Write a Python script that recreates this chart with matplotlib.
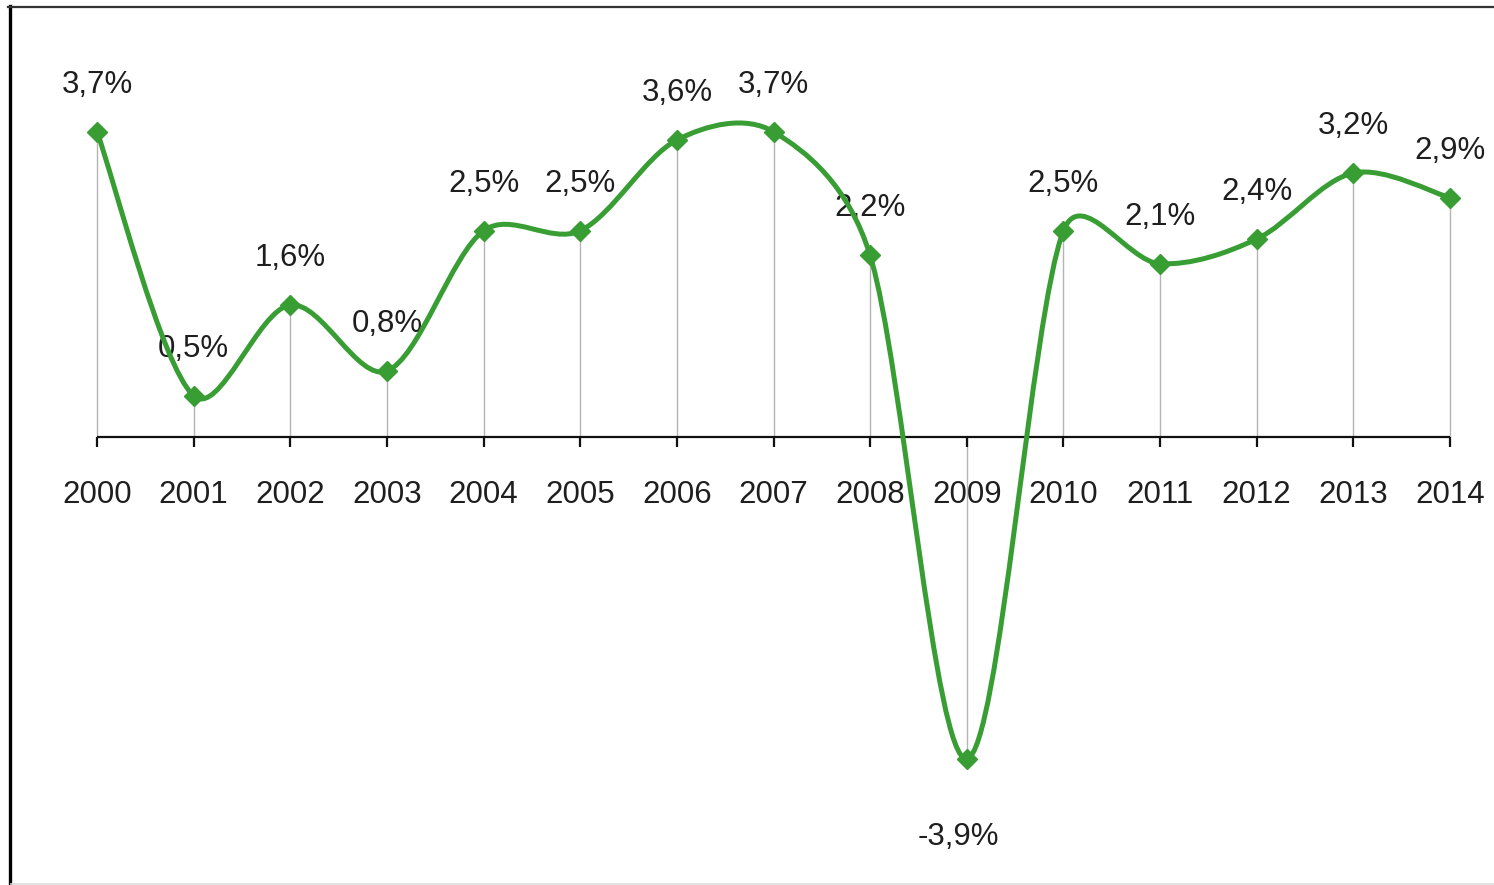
import numpy as np
import matplotlib
matplotlib.use("Agg")
import matplotlib.pyplot as plt
from matplotlib.path import Path
from matplotlib.patches import PathPatch
from matplotlib.lines import Line2D

years = ['2000', '2001', '2002', '2003', '2004', '2005', '2006', '2007',
         '2008', '2009', '2010', '2011', '2012', '2013', '2014']
growth = [3.7, 0.5, 1.6, 0.8, 2.5, 2.5, 3.6, 3.7, 2.2, -3.9, 2.5, 2.1, 2.4, 3.2, 2.9]
labels = ['3,7%', '0,5%', '1,6%', '0,8%', '2,5%', '2,5%', '3,6%', '3,7%',
          '2,2%', '-3,9%', '2,5%', '2,1%', '2,4%', '3,2%', '2,9%']

GREEN = '#389e34'
TEXT = '#1e1e1e'

plt.rcParams['font.family'] = ['Liberation Sans', 'DejaVu Sans']

W, H = 1494, 885
fig = plt.figure(figsize=(W / 100, H / 100), dpi=100)
ax = fig.add_axes([0, 0, 1, 1])

# pixel layout: 2000 at x=97, 2014 at x=1450, zero line at y=437
px_year = (1450 - 97) / 14
px_unit = 82.5
ax.set_xlim(-97 / px_year, (W - 97) / px_year)
ax.set_ylim(-(H - 437) / px_unit, 437 / px_unit)

x = np.arange(len(years))
y = np.array(growth)

# smoothed line: bezier segments, tangents shortened on the short side
# (spreadsheet-like smoothing, lengths measured in pixels)
pts = np.column_stack([x, y])
scale = np.array([px_year, px_unit])
n = len(pts)


def seg_len(a, b):
    return np.hypot(*((pts[b] - pts[a]) * scale))


def ctrl(i, j):
    # control point leaving point i towards neighbour j
    prev_i = max(i - 1, 0)
    next_i = min(i + 1, n - 1)
    tangent = pts[next_i] - pts[prev_i]
    if prev_i == i or next_i == i:
        f = 1.0
    else:
        d_this = seg_len(i, j)
        d_other = seg_len(i, 2 * i - j)
        f = min(1.0, np.sqrt(2 * d_this / (d_this + d_other)))
    sign = 1 if j > i else -1
    return pts[i] + sign * tangent * f / 6


verts = [tuple(pts[0])]
codes = [Path.MOVETO]
for i in range(n - 1):
    verts += [tuple(ctrl(i, i + 1)), tuple(ctrl(i + 1, i)), tuple(pts[i + 1])]
    codes += [Path.CURVE4] * 3
curve = PathPatch(Path(verts, codes), facecolor='none', edgecolor=GREEN,
                  lw=3.6, zorder=4, capstyle='round', joinstyle='round')
ax.add_patch(curve)

# drop lines
ax.vlines(x, 0, y, colors='#b4b4b4', lw=1.0, zorder=1)

# markers
ax.plot(x, y, linestyle='none', marker='D', ms=10, color=GREEN, zorder=5)

# axis at zero
ax.hlines(0, 0, 14, colors='#111111', lw=1.6, zorder=2)
ax.vlines(x, 0, -10 / px_unit, colors='#111111', lw=1.6, zorder=2)
for xi, yr in zip(x, years):
    ax.text(xi, -58 / px_unit, yr, ha='center', va='center',
            fontsize=22.5, color=TEXT)

# data labels
for xi, yi, lab in zip(x, y, labels):
    if yi >= 0:
        ax.annotate(lab, (xi, yi), xytext=(0, 34), textcoords='offset points',
                    ha='center', va='center', fontsize=22.5, color=TEXT, zorder=3)
    else:
        ax.annotate(lab, (xi, yi), xytext=(-6, -56), textcoords='offset points',
                    ha='center', va='center', fontsize=22.5, color=TEXT, zorder=3)

ax.axis('off')

# frame of the original picture
fig.add_artist(Line2D([9.5 / W, 9.5 / W], [0, 1 - 6 / H], color='black', lw=2.4,
                      transform=fig.transFigure))
fig.add_artist(Line2D([8 / W, 1], [1 - 7 / H, 1 - 7 / H], color='#333333', lw=1.6,
                      transform=fig.transFigure))
fig.add_artist(Line2D([11 / W, 1], [1.5 / H, 1.5 / H], color='#dddddd', lw=1.2,
                      transform=fig.transFigure))

fig.savefig('out.png', dpi=100, facecolor='white')
